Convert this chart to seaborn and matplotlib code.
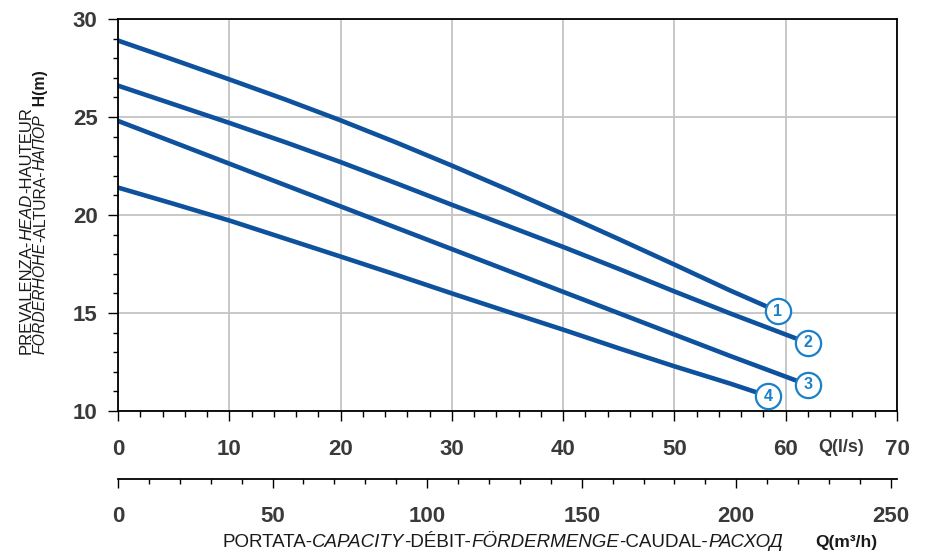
import numpy as np
import pandas as pd
import matplotlib.pyplot as plt
import seaborn as sns
from matplotlib.ticker import MultipleLocator, FixedLocator

# pump curves, Q in l/s, H in m
q1 = [0, 5, 10, 15, 20, 25, 30, 35, 40, 45, 50, 55, 59.3]
h1 = [28.9, 27.92, 26.92, 25.9, 24.83, 23.7, 22.52, 21.3, 20.05, 18.77, 17.47, 16.15, 15.08]
q2 = [0, 5, 10, 15, 20, 25, 30, 35, 40, 45, 50, 55, 62.0]
h2 = [26.6, 25.65, 24.7, 23.72, 22.7, 21.62, 20.52, 19.45, 18.37, 17.25, 16.1, 14.98, 13.47]
q3 = [0, 5, 10, 15, 20, 25, 30, 35, 40, 45, 50, 55, 62.0]
h3 = [24.8, 23.71, 22.62, 21.53, 20.44, 19.35, 18.26, 17.17, 16.08, 14.99, 13.9, 12.81, 11.33]
q4 = [0, 5, 10, 15, 20, 25, 30, 35, 40, 45, 50, 55, 58.4]
h4 = [21.4, 20.57, 19.72, 18.8, 17.88, 16.95, 16.0, 15.07, 14.15, 13.2, 12.28, 11.4, 10.76]
pumps = ['1', '2', '3', '4']

ylabel1 = [("PREVALENZA-", 'normal', 'normal'), ("HEAD", 'italic', 'normal'),
           ("-HAUTEUR", 'normal', 'normal')]
ylabel2 = [("FÖRDERHÖHE", 'italic', 'normal'), ("-ALTURA-", 'normal', 'normal'),
           ("НАПОР", 'italic', 'normal'), ("  H(m)", 'normal', 'bold')]
xlabel = [("PORTATA-", 'normal', 'normal'), ("CAPACITY", 'italic', 'normal'),
          ("-DÉBIT-", 'normal', 'normal'), ("FÖRDERMENGE", 'italic', 'normal'),
          ("-CAUDAL-", 'normal', 'normal'), ("РАСХОД", 'italic', 'normal')]

line_col = '#0e519d'
circ_col = '#1a80c8'
tick_col = '#3a3a3a'
text_col = '#1a1a1a'

sns.set_style('white')
plt.rcParams['font.family'] = ['Liberation Sans', 'DejaVu Sans']

W, H = 927, 554
fig = plt.figure(figsize=(W / 100, H / 100), dpi=100)
ax = fig.add_axes([118 / W, 1 - 411 / H, (897 - 118) / W, (411 - 19) / H])

df = pd.concat([pd.DataFrame({'Q': q, 'H': h, 'pump': p})
                for q, h, p in zip([q1, q2, q3, q4], [h1, h2, h3, h4], pumps)])
sns.lineplot(data=df, x='Q', y='H', hue='pump', palette=[line_col] * 4,
             linewidth=3.3, legend=False, estimator=None, sort=False, ax=ax)

# numbered circles at curve ends
for q, h, p in zip([q1, q2, q3, q4], [h1, h2, h3, h4], pumps):
    ax.scatter(q[-1], h[-1], s=330, marker='o', facecolor='white',
               edgecolor=circ_col, linewidth=1.6, zorder=5, clip_on=False)
    ax.text(q[-1], h[-1], p, ha='center', va='center', fontsize=11.5,
            fontweight='bold', color=circ_col, zorder=6)

ax.set_xlim(0, 70)
ax.set_ylim(10, 30)
ax.xaxis.set_major_locator(MultipleLocator(10))
ax.xaxis.set_minor_locator(MultipleLocator(2))
ax.yaxis.set_major_locator(MultipleLocator(5))
ax.yaxis.set_minor_locator(MultipleLocator(1))
ax.grid(True, which='major', color='#c4c4c4', lw=1.3)
ax.set_axisbelow(True)
ax.set_xlabel('')
ax.set_ylabel('')
for s in ax.spines.values():
    s.set_color('black')
    s.set_linewidth(1.3)
ax.tick_params(which='both', direction='out', color='black', width=1,
               labelsize=16, labelcolor=tick_col, bottom=True, left=True)
ax.tick_params(axis='x', which='major', length=7.2, pad=13)
ax.tick_params(axis='x', which='minor', length=4.3)
ax.tick_params(axis='y', which='major', length=7.2, pad=7.5)
ax.tick_params(axis='y', which='minor', length=3.6)
plt.setp(ax.get_xticklabels() + ax.get_yticklabels(), fontweight='bold')

# second flow scale in m3/h
sec = ax.secondary_xaxis(-68 / 392, functions=(lambda x: x * 3.6, lambda x: x / 3.6))
sec.xaxis.set_major_locator(FixedLocator(range(0, 251, 50)))
sec.xaxis.set_minor_locator(FixedLocator(range(0, 251, 10)))
sec.spines['bottom'].set_linewidth(1.3)
sec.spines['bottom'].set_color('black')
sec.tick_params(which='both', direction='out', color='black', width=1,
                labelsize=16, labelcolor=tick_col)
sec.tick_params(which='major', length=6.5, pad=13)
sec.tick_params(which='minor', length=3.6)
plt.setp(sec.get_xticklabels(), fontweight='bold')

fig.text(841 / W, 1 - 448 / H, 'Q(l/s)', ha='center', va='center',
         fontsize=13, fontweight='bold', color=tick_col)
fig.text(815 / W, 7 / H, 'Q(m³/h)', ha='left', va='baseline',
         fontsize=12.5, fontweight='bold', color=text_col)


def chain_vertical(pieces, x_px, y_px, size):
    prev = None
    for s, style, weight in pieces:
        kw = dict(rotation=90, rotation_mode='anchor', ha='left', va='baseline',
                  fontsize=size, fontstyle=style, fontweight=weight, color=text_col,
                  annotation_clip=False)
        if prev is None:
            prev = ax.annotate(s, xy=(x_px, y_px), xycoords='figure pixels', **kw)
        else:
            prev = ax.annotate(s, xy=(x_px, 1), xycoords=('figure pixels', prev), **kw)


def chain_horizontal(pieces, x_px, y_px, size):
    prev = None
    for s, style, weight in pieces:
        kw = dict(ha='left', va='baseline', fontsize=size, fontstyle=style,
                  fontweight=weight, color=text_col, annotation_clip=False)
        if prev is None:
            prev = ax.annotate(s, xy=(x_px, y_px), xycoords='figure pixels', **kw)
        else:
            prev = ax.annotate(s, xy=(1, y_px), xycoords=(prev, 'figure pixels'), **kw)


chain_vertical(ylabel1, 31, 200, 12)
chain_vertical(ylabel2, 45, 200, 11.3)
chain_horizontal(xlabel, 222, 7, 13.5)

fig.savefig('out.png', dpi=100)
